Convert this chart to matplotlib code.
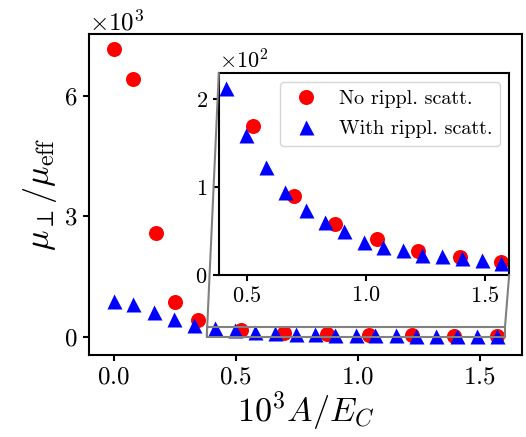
import numpy as np
import matplotlib
matplotlib.use("Agg")
from matplotlib import pyplot as plt
from matplotlib.patches import Rectangle, ConnectionPatch
from matplotlib.ticker import ScalarFormatter

plt.rcParams["font.family"] = "serif"
plt.rcParams["font.serif"] = ["cmr10"]
plt.rcParams["mathtext.fontset"] = "cm"
plt.rcParams["axes.formatter.use_mathtext"] = True
plt.rcParams["axes.unicode_minus"] = False

# values
x_no = [0.0, 0.077, 0.172, 0.25, 0.347, 0.523, 0.698, 0.872, 1.046, 1.221,
        1.395, 1.569]
mu_no = [7175, 6419, 2578, 858, 425, 170, 89.6, 57.4, 40.3, 27.3, 19.8, 14.8]

x_with = [0.0, 0.08, 0.164, 0.246, 0.328, 0.413, 0.496, 0.58, 0.661, 0.746,
          0.826, 0.908, 0.991, 1.072, 1.157, 1.238, 1.322, 1.406, 1.488, 1.569]
mu_with = [878, 807, 624, 437, 296, 213, 159, 123, 94.5, 73.7, 60.8, 50,
           37.6, 32, 28, 22.4, 22, 18.7, 16.7, 13.7]

zoom_x = (0.381, 1.603)
zoom_y = (0, 230)


def fmt(axis):
    f = ScalarFormatter(useMathText=True)
    f.set_powerlimits((0, 0))
    axis.set_major_formatter(f)


fig = plt.figure(figsize=(5.26, 4.37), dpi=100)
ax = fig.add_axes([0.169, 0.188, 0.823, 0.734])
ax.plot(x_no, mu_no, "o", color="red", ms=10.8, mec="none", zorder=2)
ax.plot(x_with, mu_with, "^", color="blue", ms=10.8, mec="none", zorder=3)
ax.set_xlim(-0.102, 1.672)
ax.set_ylim(-456, 7548)
ax.set_xticks([0.0, 0.5, 1.0, 1.5])
ax.set_yticks([0, 3000, 6000])
fmt(ax.yaxis)
ax.tick_params(labelsize=18, width=1.5, length=4.5)
ax.yaxis.get_offset_text().set_fontsize(18)
for s in ax.spines.values():
    s.set_linewidth(1.5)
ax.set_xlabel(r"$10^3A/E_C$", fontsize=24.5, labelpad=1)
ax.set_ylabel(r"$\mu_\perp/\mu_{\rm eff}$", fontsize=24.5, labelpad=4)

rect = Rectangle((zoom_x[0], zoom_y[0]), zoom_x[1] - zoom_x[0],
                 zoom_y[1] - zoom_y[0], fill=False, ec="gray", lw=1.5,
                 zorder=4)
ax.add_patch(rect)

axins = fig.add_axes([0.416, 0.371, 0.552, 0.462])
axins.plot(x_no, mu_no, "o", color="red", ms=10.8, mec="none", zorder=2,
           label="No rippl. scatt.")
axins.plot(x_with, mu_with, "^", color="blue", ms=10.8, mec="none", zorder=3,
           label="With rippl. scatt.")
axins.set_xlim(*zoom_x)
axins.set_ylim(*zoom_y)
axins.set_xticks([0.5, 1.0, 1.5])
axins.set_yticks([0, 100, 200])
fmt(axins.yaxis)
axins.tick_params(labelsize=16, width=1.5, length=4.5)
axins.yaxis.get_offset_text().set_fontsize(16)
for s in axins.spines.values():
    s.set_linewidth(1.5)
axins.legend(loc="upper right", fontsize=14.5, handletextpad=0.7,
             handlelength=1.8, labelspacing=0.6, borderaxespad=0.45)

for pa, pb in [((0, 1), (zoom_x[0], zoom_y[0])),
               ((1, 0), (zoom_x[1], zoom_y[1]))]:
    con = ConnectionPatch(xyA=pa, coordsA=axins.transAxes, xyB=pb,
                          coordsB=ax.transData, color="gray", lw=1.5)
    fig.add_artist(con)

fig.savefig("out.png", dpi=100)
